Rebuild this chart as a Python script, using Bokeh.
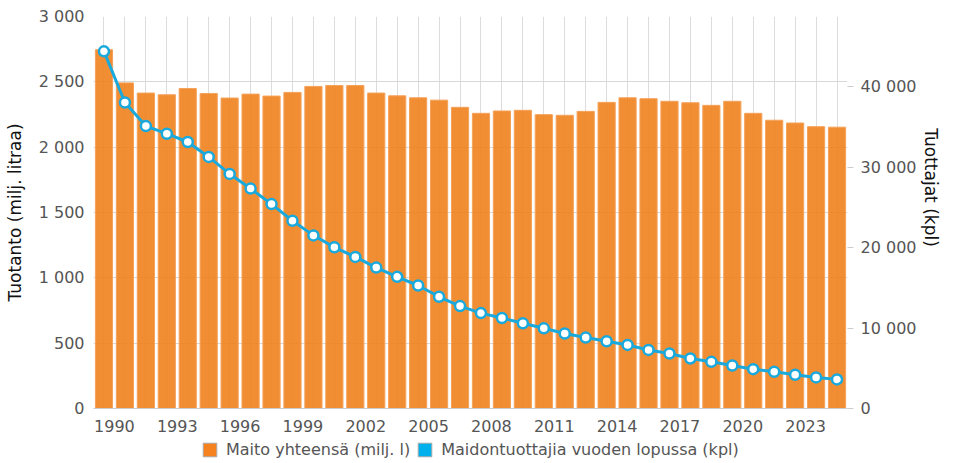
import math
from bokeh.plotting import figure
from bokeh.layouts import column, row
from bokeh.models import (Range1d, LinearAxis, FixedTicker, CustomJSTickFormatter,
                          Legend, LegendItem, ColumnDataSource, Label)
from bokeh.transform import dodge
from bokeh.embed import file_html
from bokeh.resources import INLINE

# ---- data ----
years = list(range(1989, 2025))
milk_total = [2746, 2492, 2414, 2401, 2449, 2411, 2376, 2406, 2391, 2419,
              2465, 2472, 2472, 2414, 2393, 2378, 2360, 2305, 2259, 2277,
              2282, 2249, 2244, 2274, 2343, 2378, 2371, 2351, 2340, 2320,
              2351, 2259, 2206, 2185, 2157, 2153]
producers = [44400, 38040, 35110, 34160, 33130, 31270, 29160, 27340, 25410, 23340,
             21520, 20040, 18840, 17520, 16370, 15290, 13890, 12730, 11860, 11250,
             10590, 9970, 9320, 8820, 8360, 7900, 7280, 6840, 6220, 5800,
             5350, 4890, 4560, 4190, 3860, 3620]
tick_years = [1990, 1993, 1996, 1999, 2002, 2005, 2008, 2011, 2014, 2017, 2020, 2023]
left_ticks = [0, 500, 1000, 1500, 2000, 2500, 3000]
right_ticks = [0, 10000, 20000, 30000, 40000]
series_names = ["Maito yhteensä (milj. l)", "Maidontuottajia vuoden lopussa (kpl)"]
axis_titles = ["Tuotanto (milj. litraa)", "Tuottajat (kpl)"]

FONT = "DejaVu Sans"
ORANGE = "#F0821E"
BLUE = "#1AA9DC"

src = ColumnDataSource(dict(year=years, milk=milk_total, prod=producers))

P_W, P_H = 919, 434
p = figure(width=P_W, height=P_H, output_backend="svg", toolbar_location=None,
           x_range=Range1d(years[0], years[-1] + 1), y_range=Range1d(0, 3000),
           min_border_left=93, min_border_right=72, min_border_top=16, min_border_bottom=24)
p.outline_line_color = None
p.background_fill_color = "white"
p.border_fill_color = "white"
p.extra_y_ranges = {"right": Range1d(0, 48730)}

thousands = CustomJSTickFormatter(code="return tick.toString().replace(/\\B(?=(\\d{3})+(?!\\d))/g, ' ');")

# left axis
ya = p.yaxis[0]
ya.ticker = FixedTicker(ticks=left_ticks)
ya.formatter = thousands
ya.axis_line_color = None
ya.major_tick_line_color = None
ya.minor_tick_line_color = None
ya.major_label_standoff = 3
ya.major_label_text_font = FONT
ya.major_label_text_font_size = "16px"
ya.major_label_text_color = "#555555"
ya.axis_label = axis_titles[0]
ya.axis_label_text_font = FONT
ya.axis_label_text_font_size = "17px"
ya.axis_label_text_font_style = "normal"
ya.axis_label_text_color = "#111111"
ya.axis_label_standoff = 11

# right axis
ra = LinearAxis(y_range_name="right", ticker=FixedTicker(ticks=right_ticks), formatter=thousands)
ra.axis_line_color = None
ra.major_tick_line_color = "#cccccc"
ra.major_tick_out = 6
ra.major_tick_in = 0
ra.minor_tick_line_color = None
ra.major_label_standoff = 7
ra.major_label_text_font = FONT
ra.major_label_text_font_size = "16px"
ra.major_label_text_color = "#555555"
p.add_layout(ra, "right")

# bottom axis
xa = p.xaxis[0]
xa.ticker = FixedTicker(ticks=tick_years)
xa.axis_line_color = "#cccccc"
xa.major_tick_line_color = None
xa.minor_tick_line_color = None
xa.major_label_standoff = 5
xa.major_label_text_font = FONT
xa.major_label_text_font_size = "16px"
xa.major_label_text_color = "#555555"

# grids
p.xgrid.ticker = FixedTicker(ticks=[y + 0.5 for y in years])
p.xgrid.grid_line_color = "#dcdcdc"
p.ygrid.ticker = FixedTicker(ticks=left_ticks)
p.ygrid.grid_line_color = "#d8d8d8"

# bars
p.vbar(x=dodge("year", 0.5, range=p.x_range), top="milk", width=0.82, source=src,
       fill_color=ORANGE, fill_alpha=0.9, line_color="#F5A25A", line_width=1)

# line
p.line(x=dodge("year", 0.5, range=p.x_range), y="prod", source=src, y_range_name="right",
       line_color=BLUE, line_width=3)
p.scatter(x=dodge("year", 0.5, range=p.x_range), y="prod", source=src, y_range_name="right",
          size=10, fill_color="white", line_color=BLUE, line_width=2.5)

# right axis title in a narrow strip
R_W = 941 - P_W
rf = figure(width=R_W, height=P_H, output_backend="svg", toolbar_location=None,
            x_range=Range1d(0, 1), y_range=Range1d(0, 1),
            x_axis_type=None, y_axis_type=None, min_border=0)
rf.outline_line_color = None
rf.xgrid.visible = False
rf.ygrid.visible = False
rf.add_layout(Label(x=R_W / 2, y=P_H - 213, x_units="screen", y_units="screen",
                    text=axis_titles[1], angle=-math.pi / 2,
                    text_align="center", text_baseline="middle",
                    text_font=FONT, text_font_size="17px", text_color="#111111"))

# legend strip below the chart
lf = figure(width=941, height=26, output_backend="svg", toolbar_location=None,
            x_range=Range1d(0, 1), y_range=Range1d(0, 1),
            x_axis_type=None, y_axis_type=None, min_border=0)
lf.outline_line_color = None
lf.xgrid.visible = False
lf.ygrid.visible = False
nan = float("nan")
proxy1 = lf.vbar(x=[nan], top=[nan], width=1, fill_color="#F5821F", line_color="#aaaaaa")
proxy2 = lf.vbar(x=[nan], top=[nan], width=1, fill_color="#00B0EC", line_color="#aaaaaa")
legend = Legend(items=[LegendItem(label=series_names[0], renderers=[proxy1]),
                       LegendItem(label=series_names[1], renderers=[proxy2])],
                orientation="horizontal", location=(201, 1),
                padding=0, margin=0, spacing=6, label_standoff=8,
                glyph_width=17, glyph_height=17, label_height=19,
                border_line_color=None, background_fill_alpha=0,
                label_text_font=FONT, label_text_font_size="16px",
                label_text_color="#555555")
lf.add_layout(legend, "center")

layout = column(row(p, rf, spacing=0), lf, spacing=0)
open("out.html", "w").write(file_html(layout, INLINE))
